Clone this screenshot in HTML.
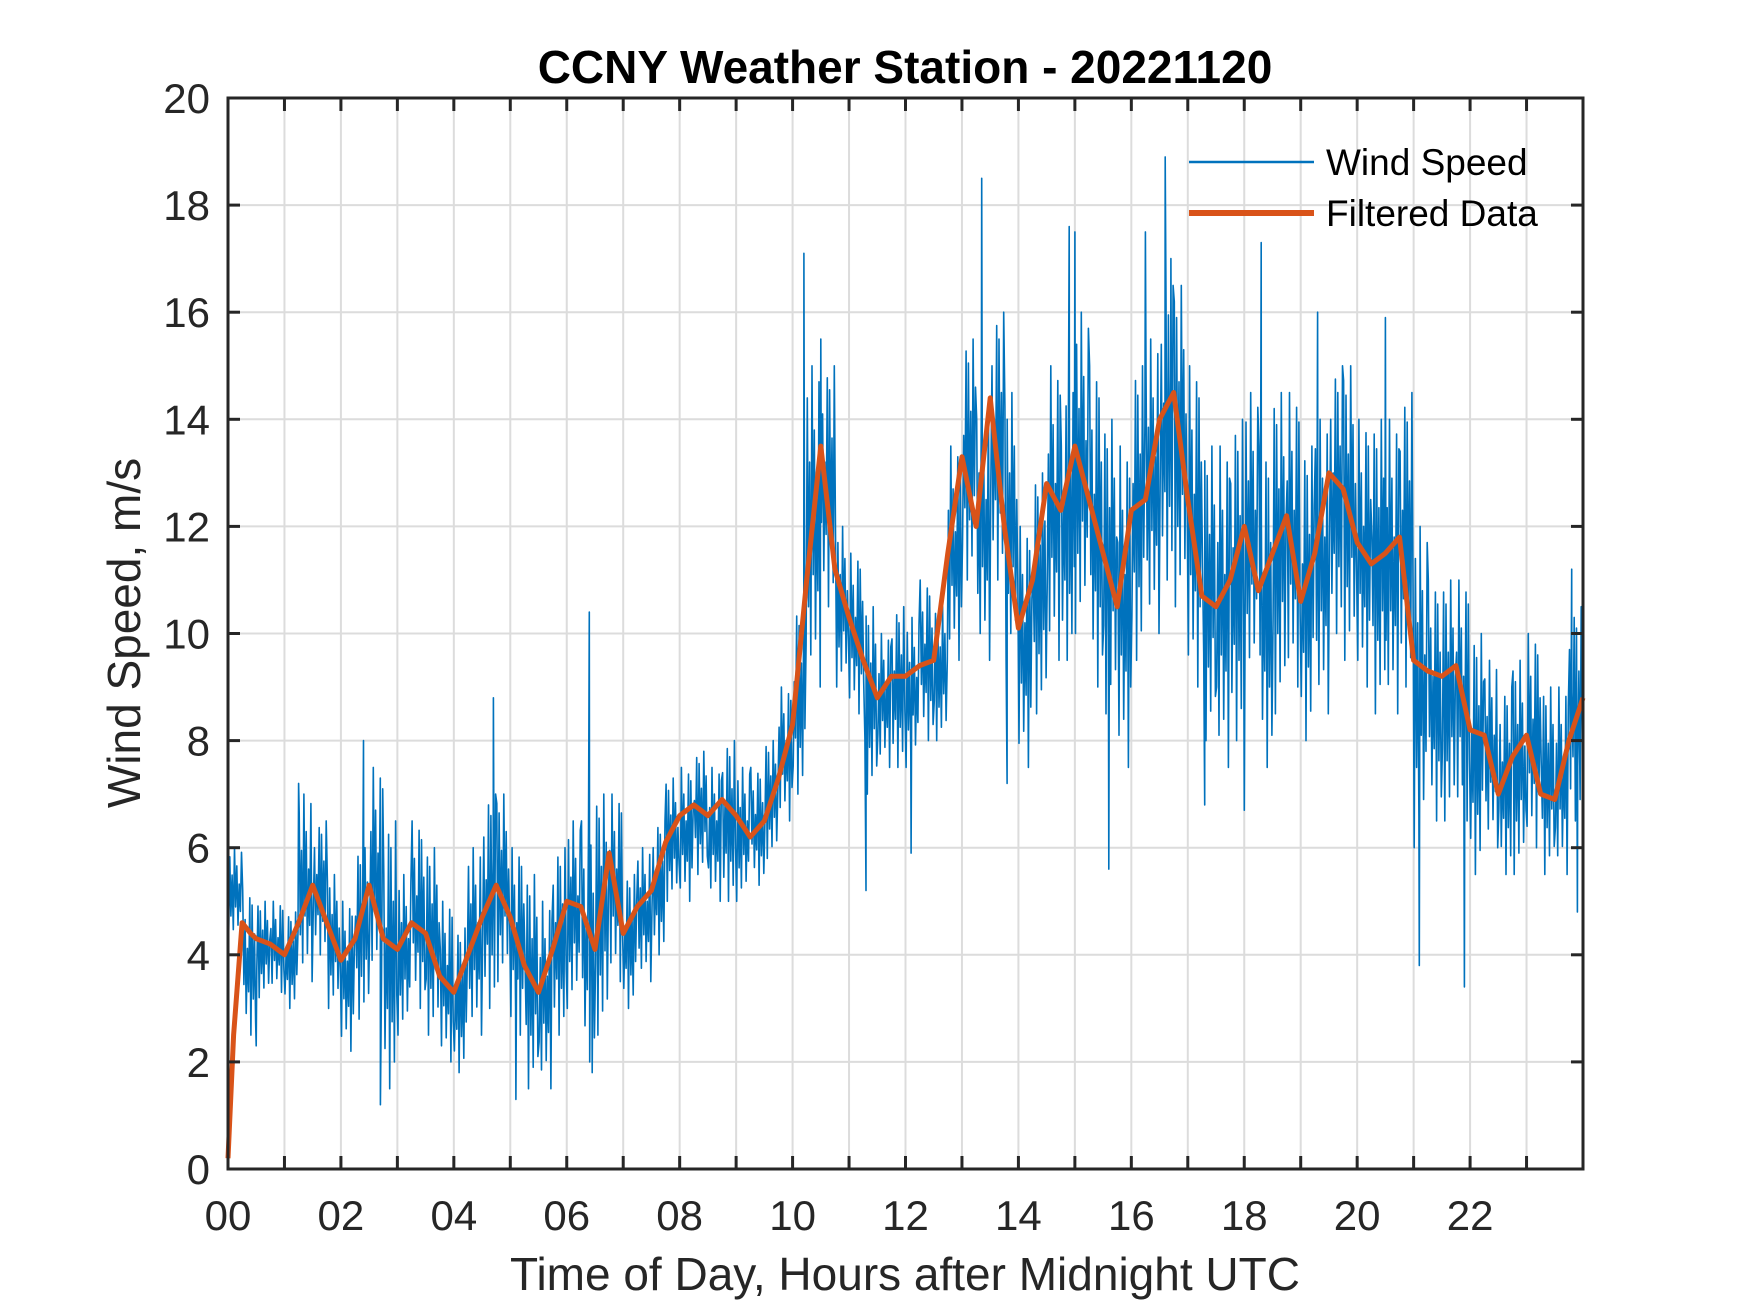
<!DOCTYPE html>
<html><head><meta charset="utf-8">
<style>
html,body{margin:0;padding:0;background:#fff;}
svg{display:block;font-family:"Liberation Sans",Arial,sans-serif;}
</style></head>
<body>
<svg id="chart" width="1750" height="1313" viewBox="0 0 1750 1313">
  <rect x="0" y="0" width="1750" height="1313" fill="#fff"/>
  <g id="grid"></g>
  <g id="series"></g>
  <g id="axes"></g>
  <text x="905" y="83" text-anchor="middle" font-size="46" font-weight="bold" fill="#000">CCNY Weather Station - 20221120</text>
  <text x="905" y="1290" text-anchor="middle" font-size="46" fill="#262626">Time of Day, Hours after Midnight UTC</text>
  <text transform="translate(140,633) rotate(-90)" text-anchor="middle" font-size="46" fill="#262626">Wind Speed, m/s</text>
  <g>
    <line x1="1189" y1="162" x2="1314" y2="162" stroke="#0072BD" stroke-width="2.5"/>
    <text x="1326" y="175" font-size="37" fill="#000">Wind Speed</text>
    <line x1="1189" y1="213" x2="1314" y2="213" stroke="#D95319" stroke-width="6"/>
    <text x="1326" y="226" font-size="37" fill="#000">Filtered Data</text>
  </g>
</svg>
<script>
// ---- data ----
const filteredTimes = [0,0.1,0.25,0.4,0.5,0.75,1,1.25,1.5,1.75,2,2.25,2.5,2.75,3,3.25,3.5,3.75,4,4.25,4.5,4.75,5,5.25,5.5,5.75,6,6.25,6.5,6.75,7,7.25,7.5,7.75,8,8.25,8.5,8.75,9,9.25,9.5,9.75,10,10.25,10.5,10.75,11,11.25,11.5,11.75,12,12.25,12.5,12.75,13,13.25,13.5,13.75,14,14.25,14.5,14.75,15,15.25,15.5,15.75,16,16.25,16.5,16.75,17,17.25,17.5,17.75,18,18.25,18.5,18.75,19,19.25,19.5,19.75,20,20.25,20.5,20.75,21,21.25,21.5,21.75,22,22.25,22.5,22.75,23,23.25,23.5,23.75,24];
const filteredValues = [0.2,2.5,4.6,4.4,4.3,4.2,4.0,4.6,5.3,4.6,3.9,4.3,5.3,4.3,4.1,4.6,4.4,3.6,3.3,4.0,4.7,5.3,4.7,3.8,3.3,4.1,5.0,4.9,4.1,5.9,4.4,4.9,5.2,6.1,6.6,6.8,6.6,6.9,6.6,6.2,6.5,7.3,8.3,11.0,13.5,11.2,10.3,9.5,8.8,9.2,9.2,9.4,9.5,11.5,13.3,12.0,14.4,12.0,10.1,11.0,12.8,12.3,13.5,12.5,11.5,10.5,12.3,12.5,14.0,14.5,12.5,10.7,10.5,11.0,12.0,10.8,11.5,12.2,10.6,11.5,13.0,12.7,11.7,11.3,11.5,11.8,9.5,9.3,9.2,9.4,8.2,8.1,7.0,7.7,8.1,7.0,6.9,8.0,8.8];
// raw wind speed: typical low/high per quarter hour
const rawLow = [4.3,2.5,3.2,3.3, 3.0,3.5,4.0,3.0, 2.2,2.8,3.5,1.5, 2.5,3.0,2.5,2.0, 1.8,2.5,3.0,3.5, 2.5,1.5,1.5,2.5, 3.0,2.0,2.5,3.5, 3.0,3.5,4.0,5.0, 5.0,5.5,5.0,5.0, 5.0,5.3,5.8,6.5, 7.0,9.0,10.5,9.0, 8.5,7.0,7.5,7.5, 7.5,8.0,8.0,9.5, 11,9.5,11,9.5, 7.5,8.5,9.5,9.5, 10,9,8.5,7.5, 9.5,10,11,10.5, 9,8,7.5,8, 9,7.5,8.5,9, 8,8.5,10,9.5, 9,8.5,8.5,9, 6,6.5,6.5,6.5, 5.5,6,5.5,5.5, 6,5.5,5.5,6.5];
const rawHigh = [6.0,5.2,5.0,5.0, 4.8,7.0,6.5,5.5, 5.0,6.0,7.5,6.5, 5.5,6.5,6.0,5.0, 4.5,6.0,7.0,7.0, 6.0,5.5,5.0,6.0, 6.5,6.5,7.0,7.0, 5.5,6.0,6.5,7.3, 7.5,7.8,7.5,8.0, 7.5,7.5,8.0,9.0, 10.5,15,15,12, 11.5,10.5,10,10.5, 10.3,11,10.5,13.5, 15.5,14.5,16,14.5, 12,13,15,14.5, 16,15,14,13.5, 15,15.5,16.5,16.5, 15,13.5,13.5,14, 14.5,13.5,14.5,14.5, 13.5,14,15,15, 14,14,14,14.5, 12,11,11,11, 10,9.5,9,9.5, 10,9,9,10.5];
const spikeTimes = [0.5,1.25,2.4,2.7,4.7,5.1,6.4,6.45,10.2,10.5,11.3,12.1,13.35,13.8,14.9,15.0,15.6,16.25,16.6,16.7,17.3,18.0,18.3,19.3,20.5,21.1,21.9,23.8,23.9];
const spikeValues = [2.3,7.2,8.0,1.2,8.8,1.3,10.4,1.8,17.1,15.5,5.2,5.9,18.5,7.2,17.6,17.5,5.6,17.5,18.9,17.0,6.8,6.7,17.3,16.0,15.9,3.8,3.4,11.2,4.8];
const xTicks = [0,2,4,6,8,10,12,14,16,18,20,22];
const xTickLabels = ["00","02","04","06","08","10","12","14","16","18","20","22"];
const yTicks = [0,2,4,6,8,10,12,14,16,18,20];

// ---- axes functions ----
const L=228, R=1583, T=98, B=1169;
const xMax=24, yMax=20;
function sx(t){return L+(R-L)*t/xMax;}
function sy(v){return B-(B-T)*v/yMax;}
const NS="http://www.w3.org/2000/svg";
function mk(tag,attrs,parent){const e=document.createElementNS(NS,tag);for(const k in attrs)e.setAttribute(k,attrs[k]);parent.appendChild(e);return e;}

const grid=document.getElementById('grid');
const axes=document.getElementById('axes');
const series=document.getElementById('series');

for(let h=1;h<24;h++){
  const g=mk('line',{x1:sx(h),x2:sx(h),y1:T,y2:B,stroke:'#dcdcdc','stroke-width':2},grid);
  
  
}
yTicks.forEach(v=>{
  if(v===0||v===yMax)return;
  const g=mk('line',{x1:L,x2:R,y1:sy(v),y2:sy(v),stroke:'#dcdcdc','stroke-width':2},grid);
  
  
});

// raw path: zigzag within each quarter-hour between its low and high
const frac=[0.0,0.9,0.25,0.7,0.1,1.0,0.35,0.8,0.15,0.6,0.3,0.95];
const pts=[];
for(let i=0;i<rawLow.length;i++){
  const t0=i*0.25, lo=rawLow[i], hi=rawHigh[i];
  for(let k=0;k<frac.length;k++){
    const f=frac[(k+i*5)%frac.length];
    pts.push([t0+0.25*(k+0.5)/frac.length, lo+(hi-lo)*f]);
  }
}
spikeTimes.forEach((t,i)=>pts.push([t,spikeValues[i]]));
pts.sort((a,b)=>a[0]-b[0]);
pts.unshift([0,4.3]);
const raw=mk('path',{d:'M'+pts.map(p=>sx(Math.min(p[0],24)).toFixed(1)+','+sy(p[1]).toFixed(1)).join('L'),fill:'none',stroke:'#0072BD','stroke-width':1.6,'stroke-linejoin':'round'},series);



const filt=mk('path',{d:'M'+filteredTimes.map((t,i)=>sx(t).toFixed(1)+','+sy(filteredValues[i]).toFixed(1)).join('L'),fill:'none',stroke:'#D95319','stroke-width':5,'stroke-linejoin':'round'},series);



// axes box
const box=mk('rect',{x:L,y:T,width:R-L,height:B-T,fill:'none',stroke:'#262626','stroke-width':3},axes);


for(let h=1;h<24;h++){
  const a=mk('line',{x1:sx(h),x2:sx(h),y1:B,y2:B-13,stroke:'#262626','stroke-width':3},axes);
  
  
  const b=mk('line',{x1:sx(h),x2:sx(h),y1:T,y2:T+13,stroke:'#262626','stroke-width':3},axes);
  
  
}
xTicks.forEach((h,i)=>{
  const tx=mk('text',{x:sx(h),y:1230,'text-anchor':'middle','font-size':42,fill:'#262626'},axes);
  tx.textContent=xTickLabels[i];
  
  
});
yTicks.forEach(v=>{
  const a=mk('line',{x1:L,x2:L+12,y1:sy(v),y2:sy(v),stroke:'#262626','stroke-width':3},axes);
  
  
  const b=mk('line',{x1:R,x2:R-12,y1:sy(v),y2:sy(v),stroke:'#262626','stroke-width':3},axes);
  
  
  const tx=mk('text',{x:210,y:sy(v)+15,'text-anchor':'end','font-size':42,fill:'#262626'},axes);
  tx.textContent=String(v);
  
  
});
</script>
</body></html>
